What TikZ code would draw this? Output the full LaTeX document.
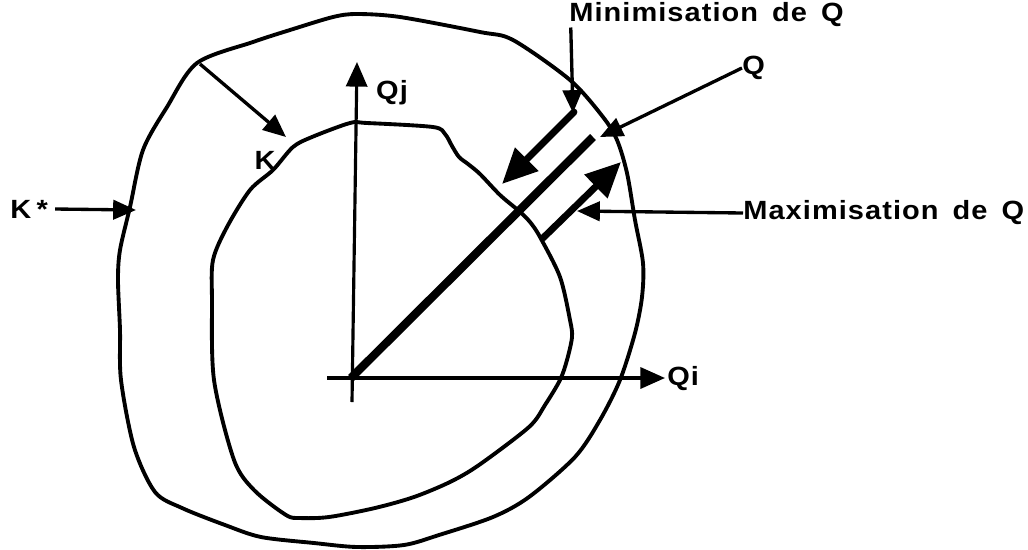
\documentclass[tikz,border=0pt]{standalone}
\usepackage{fontspec}
\newfontfamily\lblfont[FakeStretch=1.1, LetterSpace=4]{Liberation Sans}
\usetikzlibrary{arrows.meta}
\tikzset{
  curve/.style={line width=2.2pt, line join=round},
  axis/.style={line width=1.8pt},
  lead/.style={line width=1.9pt, -{Triangle[length=13pt,width=11pt]}},
  bigarrow/.style={line width=3.9pt, line cap=round, -{Triangle[length=20pt,width=18pt]}},
  mainline/.style={line width=4.7pt},
  lbl/.style={font=\lblfont\bfseries\fontsize{15}{18}\selectfont, inner sep=0pt}
}
\begin{document}
\begin{tikzpicture}[x=0.02cm,y=-0.02cm]
\useasboundingbox (0,0) rectangle (1028,549);
\fill[white] (0,0) rectangle (1028,549);

% outer curve K*
\draw[curve] plot[smooth cycle, tension=0.5] coordinates {
(357,14) (400,17) (480,32) (513,40) (570,80) (603,117) (617,140) (627,173)
(635,220) (643,263) (642,297) (635,333) (620,380) (600,420) (575,457)
(529,497) (493,517) (439,535) (404,545) (357,547) (314,543) (261,537)
(225,525) (182,508) (155,492) (134,447) (121,380) (120,330) (118,280)
(120,250) (130,207) (143,150) (167,107) (197,63) (253,42) (290,30) (333,17)};

% inner curve K
\draw[curve] plot[smooth cycle, tension=0.5] coordinates {
(350,123) (367,123) (433,127) (445,134) (452,146) (459,157) (468,164)
(480,174) (500,195) (519,211) (530,222) (540,237) (560,277) (570,320)
(572,337) (567,360) (560,380) (545,405) (529,427) (479,465) (450,482)
(414,497) (375,508) (329,517) (300,518) (286,515) (254,490) (234,460)
(214,380) (212,300) (213,260) (227,227) (250,190) (273,170) (293,147) (312,137)};

% axes
\coordinate (O) at (351,378);
\coordinate (vbot) at (352,402);
\coordinate (vtop) at (357,62);
\coordinate (hleft) at (327,378);
\coordinate (hright) at (665,378);
\draw[axis, -{Triangle[length=14pt,width=12pt]}] (vbot) -- (vtop);
\draw[axis, -{Triangle[length=14pt,width=12pt]}] (hleft) -- (hright);

% main thick direction Q
\coordinate (qend) at (593,137);
\draw[mainline] (O) -- (qend);

% labels
\node[lbl, anchor=west] (qi) at (667,379) {Qi};
\node[lbl] (qj) at (392,93) {Qj};
\node[lbl] (k) at (265,160) {K};
\node[lbl, anchor=west] (kstar) at (10,209) {K\hspace{3pt}*};
\node[lbl, anchor=west] (minlab) at (569,15) {Minimisation\hspace{8pt}de\hspace{8pt}Q};
\node[lbl, anchor=west] (maxlab) at (743,213) {Maximisation\hspace{8pt}de\hspace{8pt}Q};
\node[lbl, anchor=west] (qlab) at (742,68) {Q};

% K* leader and corner arrow
\coordinate (kstip) at (136,210);
\draw[lead] ([xshift=4pt]kstar.east) -- (kstip);
\coordinate (corner) at (200,64);
\coordinate (cornertip) at (286,137);
\draw[lead] (corner) -- (cornertip);

% Minimisation
\coordinate (mintip) at (573,113);
\draw[lead] ([xshift=1pt]minlab.south west) -- (mintip);
\coordinate (minA) at (574,112);
\coordinate (minB) at (502,184);
\draw[bigarrow] (minA) -- (minB);

% Q leader
\coordinate (qtip) at (600,137);
\draw[lead] (qlab.west) -- (qtip);

% Maximisation
\coordinate (maxA) at (543,238);
\coordinate (maxB) at (621,162);
\draw[bigarrow] (maxA) -- (maxB);
\coordinate (maxtip) at (577,211);
\draw[lead] (maxlab.west) -- (maxtip);
\end{tikzpicture}
\end{document}
